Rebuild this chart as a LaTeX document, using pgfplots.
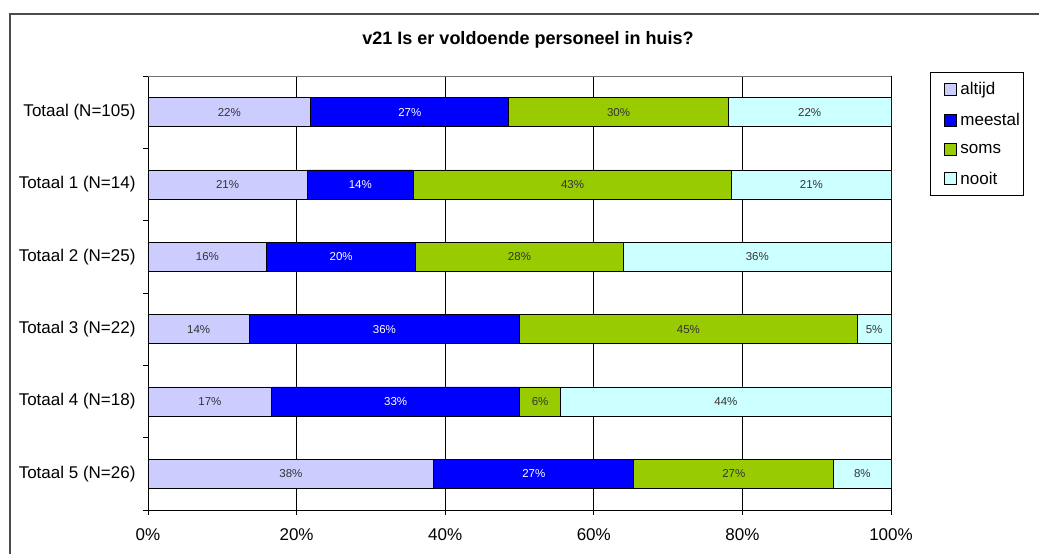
\documentclass[border=0pt]{standalone}
\usepackage{pgfplots}
\pgfplotsset{compat=1.18}
\usepackage{fontspec}
\setmainfont{Liberation Sans}
\definecolor{altijd}{HTML}{CCCCFF}
\definecolor{meestal}{HTML}{0000FF}
\definecolor{soms}{HTML}{99CC00}
\definecolor{nooit}{HTML}{CCFFFF}
\begin{document}
\begin{tikzpicture}[x=1pt,y=1pt]
\useasboundingbox (0,0) rectangle (1039,554);
\draw[line width=1.5pt, black!70] (10,-5) -- (10,540) -- (1045,540);
\node[font=\fontsize{18}{21}\selectfont\bfseries] at (528,514) {v21 Is er voldoende personeel in huis?};
\begin{axis}[
  at={(148pt,44pt)}, anchor=south west,
  width=743pt, height=434pt, scale only axis,
  xbar stacked, bar width=29pt,
  xmin=0, xmax=100, ymin=-0.5, ymax=5.5,
  axis x line*=bottom, axis y line*=left,
  axis line style={black, line width=0.8pt},
  xtick={0,20,...,100},
  xticklabels={0\%,20\%,40\%,60\%,80\%,100\%},
  minor xtick={0,20,...,100},
  ytick={0,...,5},
  yticklabels={{Totaal 5 (N=26)},{Totaal 4 (N=18)},{Totaal 3 (N=22)},{Totaal 2 (N=25)},{Totaal 1 (N=14)},{Totaal (N=105)}},
  minor ytick={-0.5,0.5,...,5.5},
  major tick length=0pt, minor tick length=5pt, tick align=outside,
  tick style={black, line width=0.8pt},
  xmajorgrids=true, major x grid style={black, line width=0.8pt},
  ticklabel style={font=\fontsize{17}{20}\selectfont},
  xticklabel style={yshift=-15pt},
  yticklabel style={xshift=-9pt},
  legend style={at={(1.0525,1.0092)}, anchor=north west, draw=black, line width=0.8pt,
    font=\fontsize{17}{20}\selectfont, row sep=15pt, inner xsep=2pt, inner ysep=9pt,
    nodes={inner sep=1pt}},
  legend cell align=left,
  legend image code/.code={\path[draw=none, fill=none] (0pt,0pt) -- (27pt,0pt);
    \draw[#1, draw=black, line width=0.6pt] (12pt,-6pt) rectangle (24pt,6pt);},
  every axis plot/.append style={draw=black, line width=0.8pt},
]
\addplot[fill=altijd] coordinates {(21.905,5) (21.429,4) (16,3) (13.636,2) (16.667,1) (38.462,0)};
\addplot[fill=meestal] coordinates {(26.667,5) (14.286,4) (20,3) (36.364,2) (33.333,1) (26.923,0)};
\addplot[fill=soms] coordinates {(29.524,5) (42.857,4) (28,3) (45.455,2) (5.556,1) (26.923,0)};
\addplot[fill=nooit] coordinates {(21.905,5) (21.429,4) (36,3) (4.545,2) (44.444,1) (7.692,0)};
\legend{altijd,meestal,soms,nooit}
\draw[black!55, line width=0.8pt] (rel axis cs:0,1) -- (rel axis cs:1,1);
\end{axis}
\begin{axis}[
  at={(148pt,44pt)}, anchor=south west,
  width=743pt, height=434pt, scale only axis,
  xmin=0, xmax=100, ymin=-0.5, ymax=5.5, hide axis,
  nodes near coords, point meta=explicit symbolic,
  every node near coord/.append style={anchor=center, font=\fontsize{11.5}{13}\selectfont},
]
\addplot[only marks, mark=none, every node near coord/.append style={text=black!80}] coordinates {
 (10.95,5) [22\%] (10.71,4) [21\%] (8,3) [16\%] (6.82,2) [14\%] (8.33,1) [17\%] (19.23,0) [38\%]
 (63.33,5) [30\%] (57.14,4) [43\%] (50,3) [28\%] (72.73,2) [45\%] (52.78,1) [6\%] (78.85,0) [27\%]
 (89.05,5) [22\%] (89.29,4) [21\%] (82,3) [36\%] (97.73,2) [5\%] (77.78,1) [44\%] (96.15,0) [8\%]
};
\addplot[only marks, mark=none, every node near coord/.append style={text=white}] coordinates {
 (35.24,5) [27\%] (28.57,4) [14\%] (26,3) [20\%] (31.82,2) [36\%] (33.33,1) [33\%] (51.92,0) [27\%]
};
\end{axis}
\end{tikzpicture}
\end{document}
